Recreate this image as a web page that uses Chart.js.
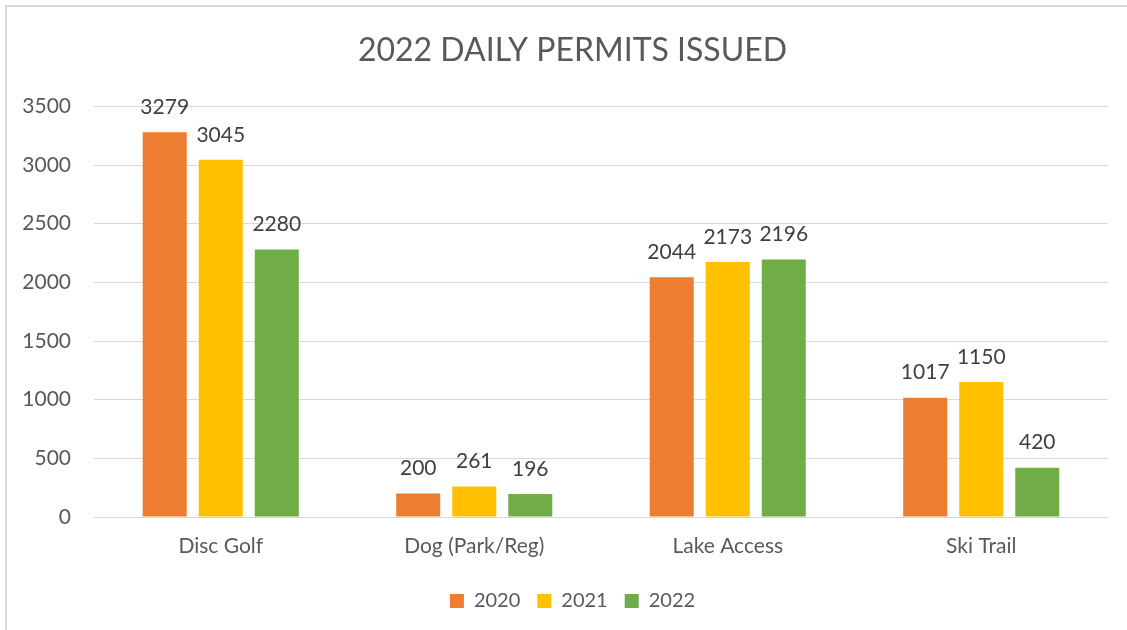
<!DOCTYPE html>
<html>
<head>
<meta charset="utf-8">
<script src="https://cdn.jsdelivr.net/npm/chart.js@4.4.0/dist/chart.umd.min.js"></script>
<style>
  html, body { margin: 0; padding: 0; background: #fff; overflow: hidden; }
  #frame { position: absolute; left: 5px; top: 5px; width: 1200px; height: 700px; border: 2px solid #d9d9d9; }
  #wrap { position: absolute; left: 0; top: 0; width: 1127px; height: 630px; }
</style>
</head>
<body>
<div id="frame"></div>
<div id="wrap"><canvas id="c" width="1127" height="630"></canvas></div>
<script>
// Daily permits by activity, three seasons side by side
const categories = ['Disc Golf', 'Dog (Park/Reg)', 'Lake Access', 'Ski Trail'];
const seriesNames = ['2020', '2021', '2022'];
const permits2020 = [3279, 200, 2044, 1017];
const permits2021 = [3045, 261, 2173, 1150];
const permits2022 = [2280, 196, 2196, 420];
const yTicks = [0, 500, 1000, 1500, 2000, 2500, 3000, 3500];

const colors = ['#ED7D31', '#FFC000', '#70AD47'];
const FONT = 'Lato, "Open Sans", sans-serif';

// numbers above each bar
const barLabels = {
    id: 'barLabels',
    afterDatasetsDraw(chart) {
        const ctx = chart.ctx;
        ctx.save();
        ctx.font = '21px ' + FONT;
        ctx.fillStyle = '#404040';
        ctx.textAlign = 'center';
        ctx.textBaseline = 'middle';
        chart.data.datasets.forEach((ds, i) => {
            chart.getDatasetMeta(i).data.forEach((bar, j) => {
                ctx.fillText(String(ds.data[j]), bar.x, bar.y - 25);
            });
        });
        ctx.restore();
    }
};

const datasets = [permits2020, permits2021, permits2022].map((vals, i) => ({
    label: seriesNames[i],
    data: vals,
    backgroundColor: colors[i],
    borderWidth: 0,
    categoryPercentage: 0.663,
    barPercentage: 0.786
}));

new Chart(document.getElementById('c'), {
    type: 'bar',
    data: { labels: categories, datasets },
    plugins: [barLabels],
    options: {
        responsive: false,
        animation: false,
        layout: { padding: { left: 18, right: 0, top: 0, bottom: 9 } },
        plugins: {
            title: {
                display: true,
                text: '2022 DAILY PERMITS ISSUED',
                color: '#595959',
                font: { family: FONT, size: 32, weight: 'normal', lineHeight: 1.2 },
                padding: { top: 31, bottom: 37 }
            },
            legend: {
                position: 'bottom',
                labels: {
                    color: '#595959',
                    font: { family: FONT, size: 20 },
                    boxWidth: 14,
                    boxHeight: 14,
                    padding: 17
                }
            },
            tooltip: { enabled: false }
        },
        scales: {
            x: {
                grid: { display: false, drawTicks: false },
                border: { display: true, color: '#d9d9d9', width: 1 },
                ticks: { color: '#595959', font: { family: FONT, size: 21 }, padding: 17 },
                afterFit: s => { s.height = 57; }
            },
            y: {
                min: 0,
                max: 3500,
                afterBuildTicks: s => { s.ticks = yTicks.map(v => ({ value: v })); },
                grid: { color: '#d9d9d9', drawTicks: false },
                border: { display: false },
                ticks: { color: '#595959', font: { family: FONT, size: 21 }, padding: 23, callback: v => String(v) },
                afterFit: s => { s.width = 76; }
            },
            // empty right margin so the plot ends where the reference's does
            yRight: {
                position: 'right',
                grid: { display: false, drawTicks: false },
                border: { display: false },
                ticks: { display: false },
                afterFit: s => { s.width = 19; }
            }
        }
    }
});
</script>
</body>
</html>
